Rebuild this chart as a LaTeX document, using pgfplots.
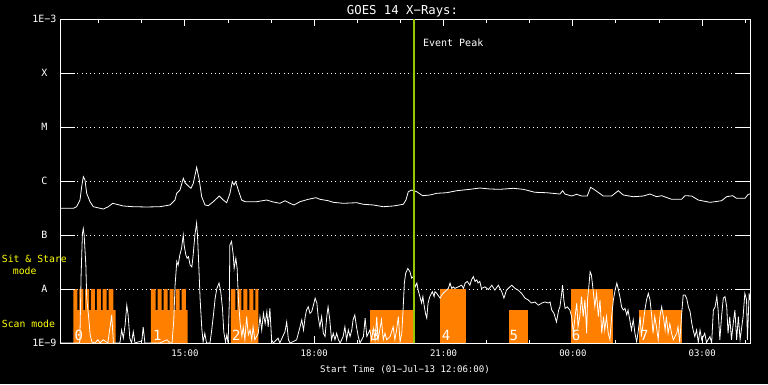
\documentclass[border=0pt]{standalone}
\usepackage{fontspec}
\setmainfont{DejaVu Sans Mono}
\usepackage{pgfplots}
\usepackage{pgfplotstable}
\pgfplotsset{compat=1.18}
\definecolor{goesorange}{RGB}{255,128,0}
\definecolor{peakgreen}{RGB}{150,200,0}
\definecolor{modeyellow}{RGB}{255,255,0}

\pgfplotstableread{
h L
12.100 -6.506
12.409 -6.506
12.487 -6.476
12.564 -6.352
12.603 -6.106
12.641 -5.920
12.680 -5.981
12.719 -6.228
12.796 -6.383
12.873 -6.476
13.105 -6.519
13.221 -6.476
13.323 -6.413
13.415 -6.431
13.569 -6.463
13.801 -6.476
14.111 -6.481
14.420 -6.476
14.652 -6.444
14.768 -6.352
14.807 -6.228
14.884 -6.167
14.961 -5.950
15.000 -6.031
15.077 -6.093
15.139 -6.135
15.193 -6.043
15.271 -5.746
15.332 -5.981
15.387 -6.291
15.464 -6.444
15.541 -6.457
15.657 -6.383
15.796 -6.278
15.889 -6.352
15.967 -6.402
16.044 -6.228
16.097 -6.013
16.137 -6.074
16.176 -6.013
16.237 -6.167
16.315 -6.352
16.392 -6.383
16.663 -6.383
16.895 -6.352
17.049 -6.389
17.204 -6.413
17.320 -6.365
17.436 -6.413
17.529 -6.444
17.668 -6.383
17.861 -6.339
18.039 -6.309
18.132 -6.339
18.325 -6.365
18.441 -6.395
18.673 -6.413
18.984 -6.402
19.137 -6.431
19.369 -6.444
19.601 -6.476
19.833 -6.463
20.065 -6.431
20.127 -6.352
20.181 -6.198
20.259 -6.167
20.375 -6.198
20.515 -6.272
20.684 -6.259
20.839 -6.228
21.071 -6.217
21.303 -6.180
21.612 -6.154
21.844 -6.130
22.076 -6.148
22.308 -6.154
22.617 -6.135
22.849 -6.154
23.120 -6.209
23.391 -6.217
23.700 -6.241
23.763 -6.180
23.816 -6.241
23.971 -6.278
24.087 -6.246
24.203 -6.278
24.333 -6.278
24.412 -6.117
24.512 -6.167
24.705 -6.278
24.899 -6.278
25.053 -6.180
25.169 -6.259
25.401 -6.291
25.633 -6.278
25.788 -6.241
25.943 -6.291
26.059 -6.272
26.291 -6.339
26.523 -6.339
26.600 -6.272
26.756 -6.278
26.909 -6.352
27.180 -6.395
27.296 -6.383
27.451 -6.365
27.567 -6.291
27.706 -6.272
27.799 -6.321
27.992 -6.321
28.069 -6.246
28.108 -6.241
}\longch

\pgfplotstableread{
h L
12.10 -9.00
12.54 -9.00
12.56 -8.98
12.59 -7.74
12.62 -6.97
12.64 -6.88
12.66 -7.00
12.70 -7.56
12.72 -8.17
12.76 -8.48
12.80 -8.85
12.84 -8.98
12.91 -9.00
12.98 -8.94
13.03 -9.00
13.10 -8.94
13.21 -9.00
13.30 -8.48
13.34 -9.00
13.49 -9.00
13.53 -8.76
13.57 -8.91
13.61 -8.67
13.65 -8.30
13.68 -8.48
13.72 -8.91
13.76 -9.00
13.80 -8.79
13.84 -9.00
14.00 -8.96
14.03 -8.70
14.07 -9.00
14.42 -9.00
14.58 -8.94
14.65 -9.00
14.70 -9.00
14.74 -8.57
14.77 -7.93
14.81 -7.49
14.84 -7.56
14.88 -7.37
14.92 -7.25
14.96 -7.00
14.98 -7.19
15.02 -7.37
15.05 -7.43
15.08 -7.40
15.12 -7.56
15.16 -7.59
15.19 -7.37
15.23 -7.00
15.27 -6.78
15.29 -7.00
15.32 -7.56
15.35 -8.17
15.39 -8.73
15.42 -8.98
15.46 -8.82
15.50 -9.00
15.58 -9.00
15.62 -8.76
15.66 -8.48
15.70 -8.17
15.74 -7.99
15.79 -7.89
15.83 -8.05
15.87 -8.36
15.90 -8.79
15.94 -8.98
15.97 -8.85
16.00 -9.00
16.03 -8.20
16.04 -7.19
16.08 -7.12
16.12 -7.37
16.14 -7.62
16.18 -7.43
16.21 -7.62
16.24 -8.20
16.28 -8.64
16.32 -8.88
16.35 -8.70
16.39 -8.94
16.43 -8.51
16.47 -8.85
16.51 -8.76
16.55 -8.94
16.58 -8.70
16.62 -8.94
16.70 -8.82
16.74 -8.51
16.78 -8.76
16.82 -8.45
16.86 -8.64
16.90 -8.42
16.93 -8.70
16.97 -8.36
17.01 -8.94
17.05 -9.00
17.16 -8.91
17.20 -9.00
17.32 -8.79
17.36 -8.61
17.40 -8.94
17.44 -9.00
17.59 -8.94
17.63 -8.82
17.67 -8.70
17.71 -8.57
17.75 -8.76
17.79 -8.51
17.82 -8.39
17.86 -8.33
17.90 -8.45
17.94 -8.42
17.98 -8.30
18.02 -8.17
18.06 -8.26
18.09 -8.51
18.13 -8.70
18.17 -8.51
18.21 -8.82
18.25 -8.88
18.29 -8.51
18.32 -8.33
18.36 -8.57
18.40 -8.94
18.44 -8.82
18.48 -8.94
18.52 -8.82
18.56 -8.94
18.60 -9.00
18.67 -8.88
18.71 -8.70
18.75 -8.94
18.79 -8.76
18.83 -8.88
18.87 -8.76
18.90 -8.57
18.94 -8.48
18.98 -8.70
19.02 -8.88
19.06 -9.00
19.14 -8.88
19.18 -8.54
19.22 -8.88
19.29 -8.76
19.33 -8.94
19.37 -8.73
19.41 -8.94
19.45 -8.51
19.48 -8.94
19.56 -8.57
19.60 -8.94
19.64 -8.82
19.68 -8.94
19.76 -8.88
19.83 -8.70
19.87 -8.94
19.91 -8.76
19.95 -8.51
19.99 -8.98
20.03 -8.82
20.06 -8.39
20.09 -7.89
20.12 -7.71
20.17 -7.62
20.22 -7.68
20.26 -7.80
20.30 -7.77
20.34 -7.96
20.38 -7.89
20.41 -8.02
20.45 -8.14
20.49 -8.26
20.52 -8.14
20.54 -8.26
20.58 -8.45
20.61 -8.54
20.64 -8.26
20.68 -8.14
20.74 -8.05
20.78 -8.14
20.80 -8.05
20.84 -8.08
20.92 -8.17
20.96 -8.11
20.99 -8.08
21.03 -8.05
21.07 -8.02
21.11 -7.99
21.15 -7.89
21.19 -7.99
21.23 -7.96
21.26 -7.99
21.34 -7.96
21.42 -7.93
21.46 -7.99
21.50 -7.89
21.55 -7.86
21.61 -7.93
21.65 -7.83
21.69 -7.77
21.73 -7.86
21.77 -7.83
21.80 -7.89
21.84 -7.86
21.88 -7.99
21.96 -7.96
22.04 -8.01
22.12 -7.93
22.19 -8.02
22.27 -7.93
22.35 -8.05
22.40 -8.17
22.46 -8.02
22.54 -7.96
22.58 -7.93
22.66 -7.99
22.73 -8.02
22.81 -8.08
22.89 -8.17
22.96 -8.20
23.04 -8.26
23.12 -8.24
23.20 -8.30
23.28 -8.26
23.35 -8.24
23.43 -8.26
23.47 -8.24
23.51 -8.39
23.56 -8.45
23.62 -8.61
23.67 -8.39
23.70 -8.33
23.74 -8.08
23.76 -7.93
23.79 -8.20
23.82 -8.36
23.87 -8.33
23.93 -8.39
23.97 -8.51
24.01 -8.82
24.05 -8.51
24.09 -8.26
24.12 -8.70
24.16 -8.51
24.20 -8.14
24.24 -8.51
24.28 -8.20
24.32 -8.82
24.34 -8.20
24.37 -7.96
24.40 -7.68
24.43 -7.74
24.47 -8.02
24.51 -8.33
24.55 -8.08
24.59 -8.51
24.63 -8.20
24.67 -8.82
24.71 -8.51
24.74 -8.76
24.78 -8.51
24.82 -8.82
24.86 -8.94
24.90 -8.51
24.94 -8.20
24.98 -8.02
25.02 -7.89
25.05 -7.99
25.09 -8.14
25.13 -8.33
25.17 -8.39
25.21 -8.36
25.25 -8.48
25.28 -8.39
25.32 -8.57
25.36 -8.76
25.40 -8.57
25.44 -8.82
25.48 -8.98
25.52 -8.76
25.56 -8.51
25.59 -8.88
25.63 -8.64
25.67 -8.39
25.71 -8.20
25.75 -8.08
25.79 -8.20
25.83 -8.51
25.86 -8.82
25.90 -8.51
25.94 -8.70
25.98 -8.94
26.02 -8.51
26.06 -8.33
26.10 -8.51
26.14 -8.76
26.17 -8.51
26.21 -8.82
26.25 -8.64
26.29 -8.82
26.33 -8.94
26.41 -8.82
26.44 -8.70
26.48 -8.99
26.52 -8.51
26.56 -8.11
26.60 -8.11
26.64 -8.17
26.68 -8.33
26.72 -8.42
26.76 -8.64
26.79 -8.76
26.83 -8.88
26.87 -8.76
26.91 -8.99
26.95 -8.76
26.99 -8.94
27.06 -8.82
27.10 -8.99
27.18 -8.88
27.22 -9.00
27.26 -8.39
27.30 -8.33
27.34 -8.14
27.37 -8.39
27.41 -8.94
27.45 -8.51
27.49 -8.17
27.53 -8.14
27.57 -8.33
27.60 -8.82
27.64 -8.51
27.68 -8.94
27.72 -8.64
27.76 -8.39
27.80 -8.94
27.84 -8.51
27.88 -8.94
27.95 -8.51
27.99 -8.08
28.03 -8.20
28.05 -8.94
28.09 -8.08
28.11 -8.20
}\shortch

\begin{document}
\begin{tikzpicture}[x=1pt,y=1pt]
\fill[black] (0,0) rectangle (768,384);
\path[use as bounding box] (0,0) rectangle (768,384);
\begin{axis}[
  at={(60pt,41pt)}, anchor=south west, scale only axis,
  width=690pt, height=324pt,
  xmin=12.1, xmax=28.11, ymin=-9, ymax=-3,
  axis line style={white, line width=1pt},
  tick align=inside, major tick length=7pt, minor tick length=3.5pt,
  x tick style={white, line width=1pt},
  y tick style={draw=none},
  xtick={15,18,21,24,27},
  xticklabels={15:00,18:00,21:00,00:00,03:00},
  minor xtick={13,14,16,17,19,20,22,23,25,26,28},
  xticklabel style={font=\fontsize{9}{11}\selectfont, text=white, anchor=north, inner sep=0pt, yshift=-7pt},
  ytick={-9,-8,-7,-6,-5,-4,-3},
  yticklabels={\makebox[25pt][c]{1E−9},\makebox[25pt][c]{A},\makebox[25pt][c]{B},\makebox[25pt][c]{C},\makebox[25pt][c]{M},\makebox[25pt][c]{X},\makebox[25pt][c]{1E−3}},
  yticklabel style={font=\fontsize{10}{12}\selectfont, text=white, anchor=east, inner sep=0pt, xshift=-3pt},
  ymajorgrids,
  major grid style={white, line width=1pt, dash pattern=on 1pt off 3.3pt},
  title={GOES 14 X−Rays:},
  title style={font=\fontsize{12.3}{14}\selectfont, text=white, at={(0.5,1)}, anchor=base, inner sep=0pt, yshift=-1pt, xshift=-2.5pt},
  xlabel={Start Time (01−Jul−13 12:06:00)},
  xlabel style={font=\fontsize{9.1}{11}\selectfont, text=white, at={(0.5,0)}, anchor=base, inner sep=0pt, yshift=-29pt},
]
% scan / sit-and-stare mode blocks
\addplot[fill=goesorange, draw=none] coordinates {(12.409,-9)(12.409,-8)(12.501,-8)(12.501,-8.389)(12.548,-8.389)(12.548,-8)(12.641,-8)(12.641,-8.389)(12.685,-8.389)(12.685,-8)(12.777,-8)(12.777,-8.389)(12.819,-8.389)(12.819,-8)(12.912,-8)(12.912,-8.389)(12.958,-8.389)(12.958,-8)(13.051,-8)(13.051,-8.389)(13.091,-8.389)(13.091,-8)(13.183,-8)(13.183,-8.389)(13.230,-8.389)(13.230,-8)(13.337,-8)(13.337,-8.389)(13.392,-8.389)(13.392,-9)};
\addplot[fill=goesorange, draw=none] coordinates {(14.211,-9)(14.211,-8)(14.320,-8)(14.320,-8.389)(14.367,-8.389)(14.367,-8)(14.459,-8)(14.459,-8.389)(14.506,-8.389)(14.506,-8)(14.599,-8)(14.599,-8.389)(14.645,-8.389)(14.645,-8)(14.738,-8)(14.738,-8.389)(14.784,-8.389)(14.784,-8)(14.877,-8)(14.877,-8.389)(14.923,-8.389)(14.923,-8)(15.023,-8)(15.023,-8.389)(15.063,-8.389)(15.063,-9)};
\addplot[fill=goesorange, draw=none] coordinates {(16.067,-9)(16.067,-8)(16.167,-8)(16.167,-8.389)(16.213,-8.389)(16.213,-8)(16.306,-8)(16.306,-8.389)(16.353,-8.389)(16.353,-8)(16.445,-8)(16.445,-8.389)(16.492,-8.389)(16.492,-8)(16.585,-8)(16.585,-8.389)(16.631,-8.389)(16.631,-8)(16.701,-8)(16.701,-9)};
\addplot[fill=goesorange, draw=none] coordinates {(19.292,-9)(19.292,-8.389)(20.297,-8.389)(20.297,-9)};
\addplot[fill=goesorange, draw=none] coordinates {(20.916,-9)(20.916,-8)(21.519,-8)(21.519,-9)};
\addplot[fill=goesorange, draw=none] coordinates {(22.517,-9)(22.517,-8.389)(22.951,-8.389)(22.951,-9)};
\addplot[fill=goesorange, draw=none] coordinates {(23.955,-9)(23.955,-8)(24.922,-8)(24.922,-9)};
\addplot[fill=goesorange, draw=none] coordinates {(25.545,-9)(25.545,-8.389)(26.537,-8.389)(26.537,-9)};
% block numbers
\begin{scope}[every node/.style={anchor=base west, inner sep=0pt, text=white, font=\fontsize{14}{16}\selectfont}]
\node at (axis cs:12.436,-8.95) {0};
\node at (axis cs:14.258,-8.95) {1};
\node at (axis cs:16.090,-8.95) {2};
\node at (axis cs:19.316,-8.95) {3};
\node at (axis cs:20.956,-8.95) {4};
\node at (axis cs:22.525,-8.95) {5};
\node at (axis cs:23.973,-8.95) {6};
\node at (axis cs:25.557,-8.95) {7};
\end{scope}
% GOES channels
\addplot[white, line width=0.8pt, sharp plot] table[x=h, y=L] {\longch};
\addplot[white, line width=0.8pt, sharp plot] table[x=h, y=L] {\shortch};
% event peak
\addplot[peakgreen, line width=2pt] coordinates {(20.306,-9) (20.306,-3)};
\node[anchor=west, inner sep=0pt, text=white, font=\fontsize{10}{12}\selectfont] at (axis cs:20.52,-3.44) {Event Peak};
% y ticks (long, both sides)
\pgfplotsinvokeforeach{-8,-7,-6,-5,-4}{
  \draw[white, line width=1pt] (axis cs:12.1,#1) -- ([xshift=15pt]axis cs:12.1,#1);
  \draw[white, line width=1pt] (axis cs:28.11,#1) -- ([xshift=-14pt]axis cs:28.11,#1);
}
\end{axis}
\node[anchor=west, inner sep=0pt, text=modeyellow, font=\fontsize{9.8}{12}\selectfont] at (1.7,125.3) {Sit \& Stare};
\node[anchor=west, inner sep=0pt, text=modeyellow, font=\fontsize{9.8}{12}\selectfont] at (12.7,113) {mode};
\node[anchor=west, inner sep=0pt, text=modeyellow, font=\fontsize{9.8}{12}\selectfont] at (1.7,60) {Scan mode};
\end{tikzpicture}
\end{document}
